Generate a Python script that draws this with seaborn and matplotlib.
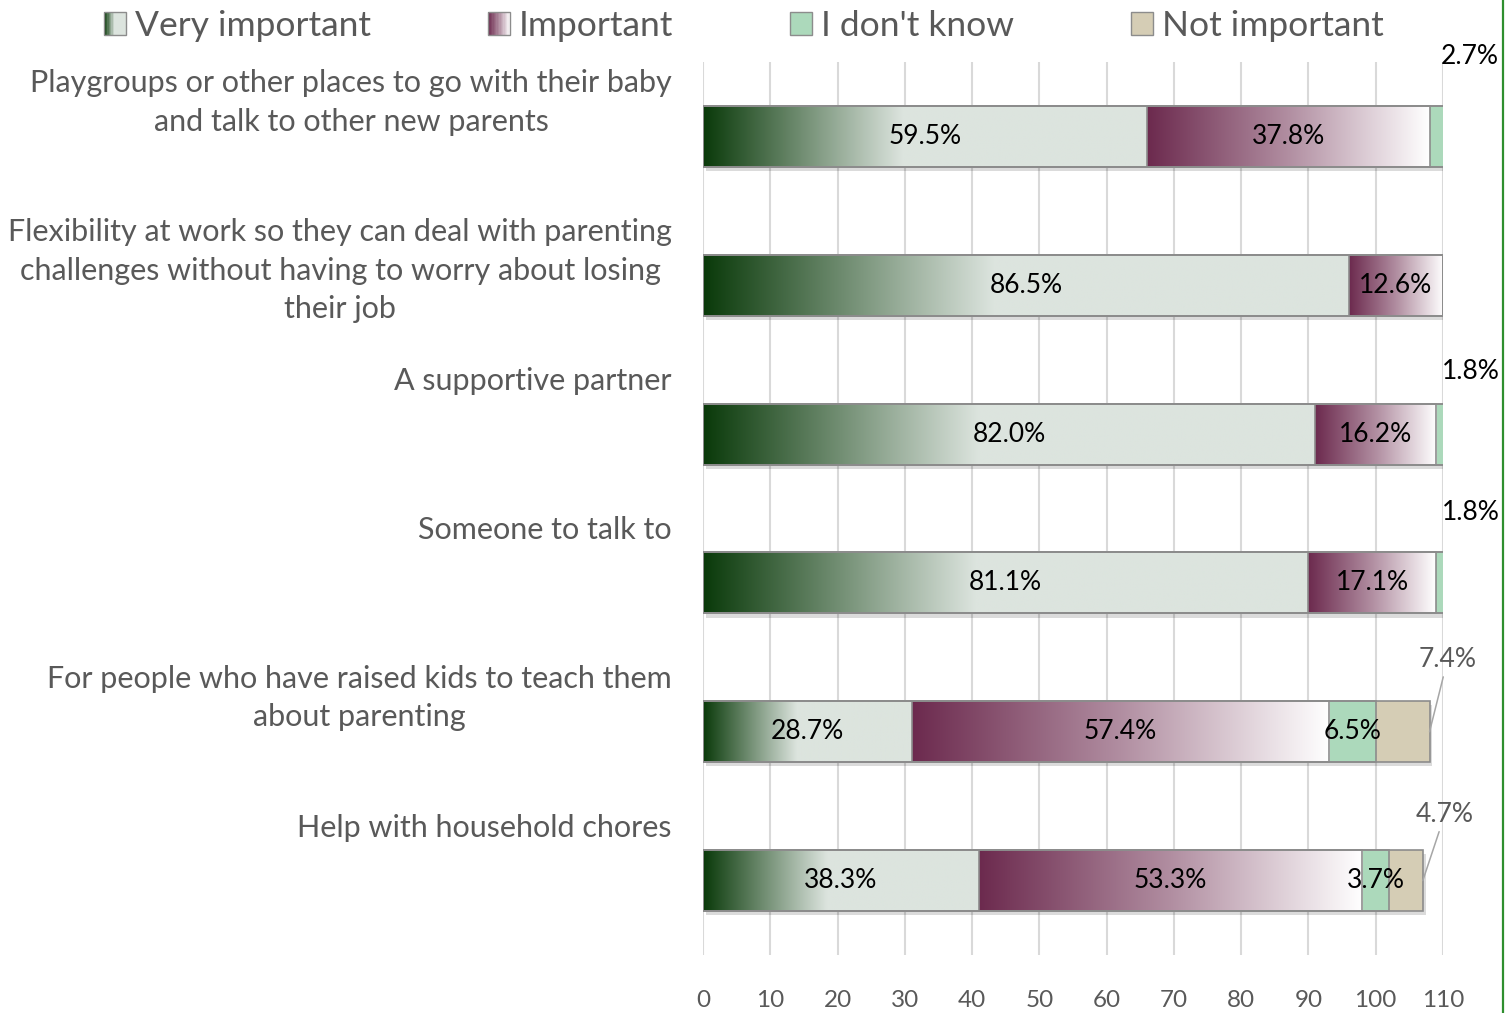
import numpy as np
import pandas as pd
import matplotlib
matplotlib.use("Agg")
import matplotlib.pyplot as plt
import matplotlib.patheffects as pe
import matplotlib.transforms as mtransforms
import seaborn as sns
from matplotlib.colors import LinearSegmentedColormap
from matplotlib.patches import Rectangle, Patch
from matplotlib.lines import Line2D
from matplotlib.legend_handler import HandlerBase

# ---- data -------------------------------------------------------------
items = [
    "Playgroups or other places to go with their baby\nand talk to other new parents",
    "Flexibility at work so they can deal with parenting\nchallenges without having to worry about losing\ntheir job",
    "A supportive partner",
    "Someone to talk to",
    "For people who have raised kids to teach them\nabout parenting",
    "Help with household chores",
]
respondents = [111, 111, 111, 111, 108, 107]
very_important = [66, 96, 91, 90, 31, 41]
important = [42, 14, 18, 19, 62, 57]
dont_know = [3, 0, 2, 2, 7, 4]
not_important = [0, 0, 0, 0, 8, 5]
series_names = ["Very important", "Important", "I don't know", "Not important"]
x_ticks = list(range(0, 111, 10))

# ---- style ------------------------------------------------------------
sns.set_theme(style="white")
plt.rcParams["font.family"] = ["Lato", "DejaVu Sans"]

TEXT_GREY = "#595959"
EDGE = "#8c8c8c"
solid = ["#6f8f74", "#9b6f86", "#acd9bb", "#d5cdb5"]
green_cmap = LinearSegmentedColormap.from_list(
    "very", [(0.0, "#0a3a0a"), (0.45, "#dce4de"), (1.0, "#dce4de")])
purple_cmap = LinearSegmentedColormap.from_list(
    "imp", [(0.0, "#6c2a4e"), (0.5, "#b18ea1"), (1.0, "#ffffff")])
plain_dk = LinearSegmentedColormap.from_list("dk", ["#acd9bb", "#acd9bb"])
plain_ni = LinearSegmentedColormap.from_list("ni", ["#d5cdb5", "#d5cdb5"])
swatch_maps = [green_cmap, purple_cmap, plain_dk, plain_ni]

XMAX = 110
BAR_H = 0.41

df = pd.DataFrame({
    "item": items,
    "very": very_important,
    "imp": important,
    "dk": dont_know,
    "ni": not_important,
})
counts = df[["very", "imp", "dk", "ni"]].to_numpy()
cum = counts.cumsum(axis=1)
for k in range(4):
    df[f"cum{k}"] = cum[:, k]

fig = plt.figure(figsize=(15.10, 10.13), dpi=100)
ax = fig.add_axes([703 / 1510, 58 / 1013, 740 / 1510, 893 / 1013])

# stacked bars: draw cumulative totals from the outermost layer inwards
layer_patches = {}
for k in (3, 2, 1, 0):
    before = len(ax.patches)
    sns.barplot(data=df, y="item", x=f"cum{k}", orient="y", color=solid[k],
                saturation=1, width=BAR_H, errorbar=None, linewidth=0,
                edgecolor="none", ax=ax)
    layer_patches[k] = ax.patches[before:]

# soft drop shadow under each full bar
for p in layer_patches[3]:
    p.set_path_effects([pe.SimplePatchShadow(offset=(2, -3), shadow_rgbFace="black",
                                             alpha=0.14), pe.Normal()])

# gradient fills for the two main segments
ramp = np.linspace(0, 1, 256).reshape(1, -1)
for k, cmap in ((0, green_cmap), (1, purple_cmap)):
    for row, p in enumerate(layer_patches[k]):
        end = p.get_x() + p.get_width()
        start = end - counts[row, k]
        if end <= start:
            continue
        y0, h = p.get_y(), p.get_height()
        im = ax.imshow(ramp, cmap=cmap, extent=(start, end, y0 + h, y0),
                       aspect="auto", interpolation="bilinear", zorder=1.2)
        im.set_clip_path(p)

# thin grey outlines around every segment
for k in (3, 2, 1, 0):
    for p in layer_patches[k]:
        if p.get_width() <= 0:
            continue
        ax.add_patch(Rectangle(p.get_xy(), p.get_width(), p.get_height(),
                               fill=False, edgecolor=EDGE, linewidth=1.2, zorder=2))

# ---- value labels -----------------------------------------------------
above_offsets = {0: (27, 80), 2: (28, 63), 3: (28, 70)}
callout_offsets = {4: (18, 72), 5: (22, 66)}
for row in range(len(items)):
    for k in range(4):
        c = counts[row, k]
        if c <= 0:
            continue
        pct = c / respondents[row] * 100
        txt = f"{pct:.1f}%"
        end = cum[row, k]
        start = end - c
        if end > XMAX:
            ax.annotate(txt, xy=(XMAX, row), xytext=above_offsets.get(row, (27, 70)),
                        textcoords="offset pixels", ha="center", va="center",
                        fontsize=19, color="black", annotation_clip=False, zorder=5)
        elif k == 3:
            ax.annotate(txt, xy=(end, row), xytext=callout_offsets.get(row, (20, 70)),
                        textcoords="offset pixels", ha="center", va="center",
                        fontsize=19, color=TEXT_GREY, annotation_clip=False, zorder=5,
                        arrowprops=dict(arrowstyle="-", color="#a6a6a6", lw=1.1,
                                        shrinkA=1, shrinkB=0))
        else:
            ax.text((start + end) / 2, row, txt, ha="center", va="center",
                    fontsize=19, color="black", zorder=5)

# ---- axes cosmetics -----------------------------------------------------
ax.set_xlim(0, XMAX)
ax.set_ylim(len(items) - 0.5, -0.5)
ax.set_xticks(x_ticks)
ax.set_xticklabels([str(t) for t in x_ticks])
ax.set_yticks(range(len(items)))
ax.set_yticklabels([])
ax.set_xlabel("")
ax.set_ylabel("")
ax.tick_params(axis="x", length=0, pad=25, labelsize=17.5, labelcolor=TEXT_GREY)
ax.tick_params(axis="y", length=0)
ax.xaxis.grid(True, color="#d9d9d9", linewidth=1.5)
ax.yaxis.grid(False)
ax.set_axisbelow(True)
for s in ax.spines.values():
    s.set_visible(False)

lab_tr = mtransforms.blended_transform_factory(ax.transAxes, ax.transData)
for row, name in enumerate(items):
    ax.text(-0.042, row - 0.45, name, transform=lab_tr, ha="right", va="top",
            multialignment="center", fontsize=22, color=TEXT_GREY, linespacing=1.46)


# ---- legend with gradient swatches --------------------------------------
class GradientSwatch(HandlerBase):
    def __init__(self, cmap):
        super().__init__()
        self.cmap = cmap

    def create_artists(self, legend, orig_handle, xdescent, ydescent,
                       width, height, fontsize, trans):
        n = 16
        arts = []
        for j in range(n):
            arts.append(Rectangle((-xdescent + width * j / n, -ydescent), width / n,
                                  height, facecolor=self.cmap((j + 0.5) / n),
                                  edgecolor="none", transform=trans))
        arts.append(Rectangle((-xdescent, -ydescent), width, height, fill=False,
                              edgecolor=EDGE, linewidth=1.0, transform=trans))
        return arts


handles = [Patch(label=n) for n in series_names]
fig.legend(handles=handles, labels=series_names, loc="center",
           bbox_to_anchor=(744 / 1510, 1 - 26 / 1013), ncol=4, frameon=False,
           fontsize=25.5, handlelength=0.62, handleheight=0.62, handletextpad=0.25,
           columnspacing=3.3, labelcolor=TEXT_GREY,
           handler_map={h: GradientSwatch(m) for h, m in zip(handles, swatch_maps)})

# green frame line on the right edge of the chart area
fig.add_artist(Line2D([1503 / 1510, 1503 / 1510], [0, 1], transform=fig.transFigure,
                      color="#2f8f2f", linewidth=1.6))

fig.savefig("out.png", dpi=100)
